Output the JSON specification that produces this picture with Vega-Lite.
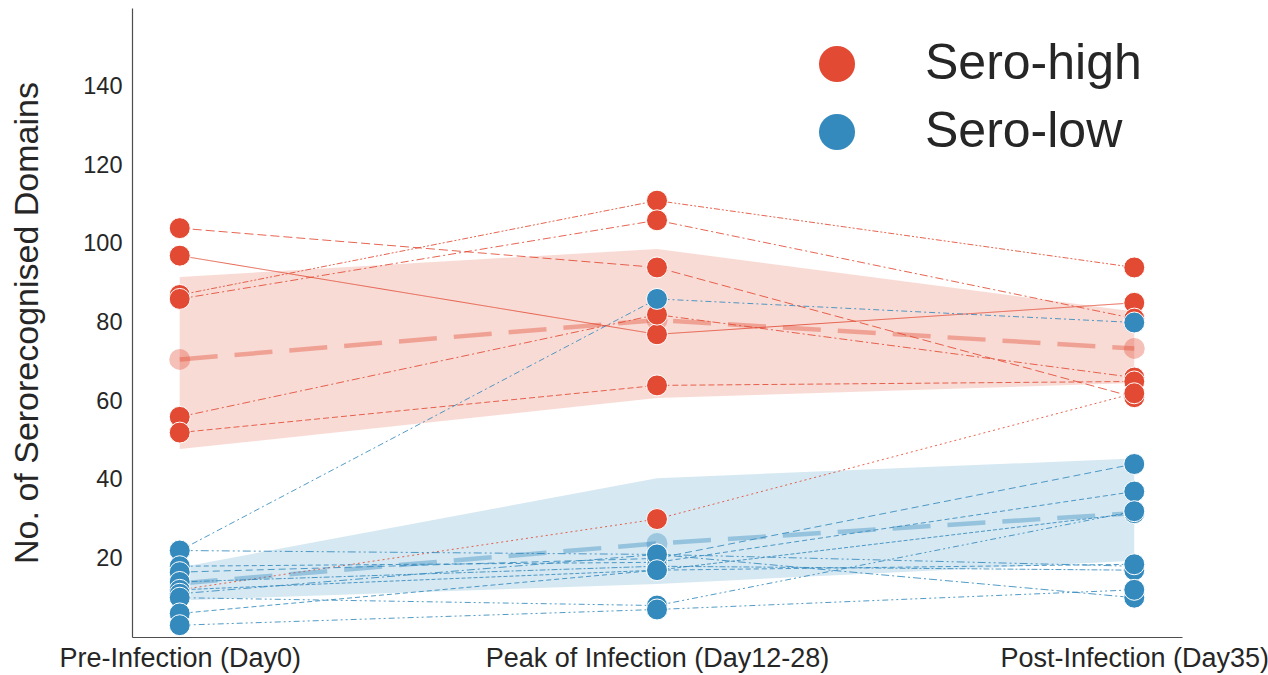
{
  "$schema": "https://vega.github.io/schema/vega-lite/v6.json",
  "width": 1050,
  "height": 629,
  "autosize": {"type": "none"},
  "padding": {"left": 132, "top": 8, "right": 86, "bottom": 38},
  "background": "white",
  "config": {
    "view": {"stroke": null},
    "font": "Liberation Sans",
    "axis": {"grid": false, "ticks": false, "domainColor": "#4d4d4d", "domainWidth": 1.2, "labelColor": "#262626", "titleColor": "#262626"},
    "legend": {"orient": "none", "legendX": 680, "legendY": 31, "symbolSize": 1300, "labelFontSize": 50, "symbolType": "circle", "rowPadding": 18, "labelOffset": 63, "labelColor": "#262626", "symbolStrokeWidth": 0, "symbolOpacity": 1, "labelLimit": 0}
  },
  "datasets": {
    "bands": [
      {"group": "Sero-high", "time": "Pre-Infection (Day0)", "lo": 47.8, "hi": 91.6},
      {"group": "Sero-high", "time": "Peak of Infection (Day12-28)", "lo": 60.8, "hi": 98.7},
      {"group": "Sero-high", "time": "Post-Infection (Day35)", "lo": 64.6, "hi": 82.8},
      {"group": "Sero-low", "time": "Pre-Infection (Day0)", "lo": 9.3, "hi": 17.7},
      {"group": "Sero-low", "time": "Peak of Infection (Day12-28)", "lo": 13.5, "hi": 40.4},
      {"group": "Sero-low", "time": "Post-Infection (Day35)", "lo": 19.4, "hi": 45.4}
    ],
    "means": [
      {"group": "Sero-high", "time": "Pre-Infection (Day0)", "value": 70.6},
      {"group": "Sero-high", "time": "Peak of Infection (Day12-28)", "value": 80.6},
      {"group": "Sero-high", "time": "Post-Infection (Day35)", "value": 73.4},
      {"group": "Sero-low", "time": "Pre-Infection (Day0)", "value": 13.6},
      {"group": "Sero-low", "time": "Peak of Infection (Day12-28)", "value": 23.8},
      {"group": "Sero-low", "time": "Post-Infection (Day35)", "value": 31.5}
    ],
    "subjects": [
      {"subject": "H1", "group": "Sero-high", "time": "Pre-Infection (Day0)", "value": 104},
      {"subject": "H1", "group": "Sero-high", "time": "Peak of Infection (Day12-28)", "value": 94},
      {"subject": "H1", "group": "Sero-high", "time": "Post-Infection (Day35)", "value": 61},
      {"subject": "H2", "group": "Sero-high", "time": "Pre-Infection (Day0)", "value": 97},
      {"subject": "H2", "group": "Sero-high", "time": "Peak of Infection (Day12-28)", "value": 77},
      {"subject": "H2", "group": "Sero-high", "time": "Post-Infection (Day35)", "value": 85},
      {"subject": "H3", "group": "Sero-high", "time": "Pre-Infection (Day0)", "value": 87},
      {"subject": "H3", "group": "Sero-high", "time": "Peak of Infection (Day12-28)", "value": 111},
      {"subject": "H3", "group": "Sero-high", "time": "Post-Infection (Day35)", "value": 94},
      {"subject": "H4", "group": "Sero-high", "time": "Pre-Infection (Day0)", "value": 86},
      {"subject": "H4", "group": "Sero-high", "time": "Peak of Infection (Day12-28)", "value": 106},
      {"subject": "H4", "group": "Sero-high", "time": "Post-Infection (Day35)", "value": 81},
      {"subject": "H5", "group": "Sero-high", "time": "Pre-Infection (Day0)", "value": 56},
      {"subject": "H5", "group": "Sero-high", "time": "Peak of Infection (Day12-28)", "value": 82},
      {"subject": "H5", "group": "Sero-high", "time": "Post-Infection (Day35)", "value": 66},
      {"subject": "H6", "group": "Sero-high", "time": "Pre-Infection (Day0)", "value": 52},
      {"subject": "H6", "group": "Sero-high", "time": "Peak of Infection (Day12-28)", "value": 64},
      {"subject": "H6", "group": "Sero-high", "time": "Post-Infection (Day35)", "value": 65},
      {"subject": "H7", "group": "Sero-high", "time": "Pre-Infection (Day0)", "value": 12},
      {"subject": "H7", "group": "Sero-high", "time": "Peak of Infection (Day12-28)", "value": 30},
      {"subject": "H7", "group": "Sero-high", "time": "Post-Infection (Day35)", "value": 62},
      {"subject": "L01", "group": "Sero-low", "time": "Pre-Infection (Day0)", "value": 22},
      {"subject": "L01", "group": "Sero-low", "time": "Peak of Infection (Day12-28)", "value": 86},
      {"subject": "L01", "group": "Sero-low", "time": "Post-Infection (Day35)", "value": 80},
      {"subject": "L02", "group": "Sero-low", "time": "Pre-Infection (Day0)", "value": 22},
      {"subject": "L02", "group": "Sero-low", "time": "Peak of Infection (Day12-28)", "value": 21},
      {"subject": "L02", "group": "Sero-low", "time": "Post-Infection (Day35)", "value": 18},
      {"subject": "L03", "group": "Sero-low", "time": "Pre-Infection (Day0)", "value": 18},
      {"subject": "L03", "group": "Sero-low", "time": "Peak of Infection (Day12-28)", "value": 19},
      {"subject": "L03", "group": "Sero-low", "time": "Post-Infection (Day35)", "value": 37},
      {"subject": "L04", "group": "Sero-low", "time": "Pre-Infection (Day0)", "value": 16.5},
      {"subject": "L04", "group": "Sero-low", "time": "Peak of Infection (Day12-28)", "value": 20},
      {"subject": "L04", "group": "Sero-low", "time": "Post-Infection (Day35)", "value": 44},
      {"subject": "L05", "group": "Sero-low", "time": "Pre-Infection (Day0)", "value": 14},
      {"subject": "L05", "group": "Sero-low", "time": "Peak of Infection (Day12-28)", "value": 18},
      {"subject": "L05", "group": "Sero-low", "time": "Post-Infection (Day35)", "value": 17},
      {"subject": "L06", "group": "Sero-low", "time": "Pre-Infection (Day0)", "value": 12},
      {"subject": "L06", "group": "Sero-low", "time": "Peak of Infection (Day12-28)", "value": 17},
      {"subject": "L06", "group": "Sero-low", "time": "Post-Infection (Day35)", "value": 31.5},
      {"subject": "L07", "group": "Sero-low", "time": "Pre-Infection (Day0)", "value": 11},
      {"subject": "L07", "group": "Sero-low", "time": "Peak of Infection (Day12-28)", "value": 21},
      {"subject": "L07", "group": "Sero-low", "time": "Post-Infection (Day35)", "value": 10},
      {"subject": "L08", "group": "Sero-low", "time": "Pre-Infection (Day0)", "value": 10},
      {"subject": "L08", "group": "Sero-low", "time": "Peak of Infection (Day12-28)", "value": 8},
      {"subject": "L08", "group": "Sero-low", "time": "Post-Infection (Day35)", "value": 32},
      {"subject": "L09", "group": "Sero-low", "time": "Pre-Infection (Day0)", "value": 6},
      {"subject": "L09", "group": "Sero-low", "time": "Peak of Infection (Day12-28)", "value": 17},
      {"subject": "L09", "group": "Sero-low", "time": "Post-Infection (Day35)", "value": 18.5},
      {"subject": "L10", "group": "Sero-low", "time": "Pre-Infection (Day0)", "value": 3},
      {"subject": "L10", "group": "Sero-low", "time": "Peak of Infection (Day12-28)", "value": 7},
      {"subject": "L10", "group": "Sero-low", "time": "Post-Infection (Day35)", "value": 12}
    ]
  },
  "encoding": {
    "x": {"field": "time", "type": "ordinal", "sort": null,
      "scale": {"type": "point", "domain": ["Pre-Infection (Day0)", "Peak of Infection (Day12-28)", "Post-Infection (Day35)"], "padding": 0.1},
      "axis": {"title": null, "labelFontSize": 27, "labelPadding": 8, "labelAngle": 0, "labelLimit": 0}},
    "y": {"field": "value", "type": "quantitative",
      "scale": {"domain": [0, 160], "nice": false, "zero": false},
      "axis": {"values": [20, 40, 60, 80, 100, 120, 140], "title": "No. of Serorecognised Domains", "titleFontSize": 34, "titleFontWeight": "normal", "labelFontSize": 23.5, "labelPadding": 10, "titlePadding": 38}},
    "color": {"field": "group", "type": "nominal", "scale": {"domain": ["Sero-high", "Sero-low"], "range": ["#E24A33", "#348ABD"]},
      "legend": {"title": null, "encode": {"symbols": {"update": {"fill": {"scale": "color", "field": "value"}, "stroke": {"value": "transparent"}, "strokeDash": {"value": []}, "opacity": {"value": 1}, "fillOpacity": {"value": 1}}}}}}
  },
  "layer": [
    {
      "data": {"name": "bands"},
      "mark": {"type": "area", "opacity": 0.2, "stroke": null},
      "encoding": {
        "y": {"field": "lo", "type": "quantitative", "title": "No. of Serorecognised Domains"},
        "y2": {"field": "hi"},
        "detail": {"field": "group"}
      }
    },
    {
      "data": {"name": "subjects"},
      "mark": {"type": "line", "strokeWidth": 1, "opacity": 0.85},
      "encoding": {
        "detail": {"field": "subject"},
        "strokeDash": {"field": "subject", "type": "nominal", "legend": null,
          "scale": {"domain": ["H1","H2","H3","H4","H5","H6","H7","L01","L02","L03","L04","L05","L06","L07","L08","L09","L10"],
            "range": [[9,4],[1,0],[6,2,2,2,2,2],[8,3,2,3],[8,3,2,3],[6,3],[2,3],[6,3,2,3],[8,3,2,3,2,3],[5,3],[7,4],[6,2,2,2],[4,2],[8,3,2,3],[6,3,2,3,2,3],[5,3],[6,3,2,3,2,3]]}}
      }
    },
    {
      "data": {"name": "means"},
      "mark": {"type": "line", "strokeWidth": 4.5, "strokeDash": [38, 17], "opacity": 0.4},
      "encoding": {}
    },
    {
      "data": {"name": "means"},
      "mark": {"type": "circle", "size": 440, "opacity": 0.35},
      "encoding": {}
    },
    {
      "data": {"name": "subjects"},
      "mark": {"type": "circle", "size": 440, "opacity": 1, "stroke": "white", "strokeWidth": 1},
      "encoding": {}
    }
  ]
}
